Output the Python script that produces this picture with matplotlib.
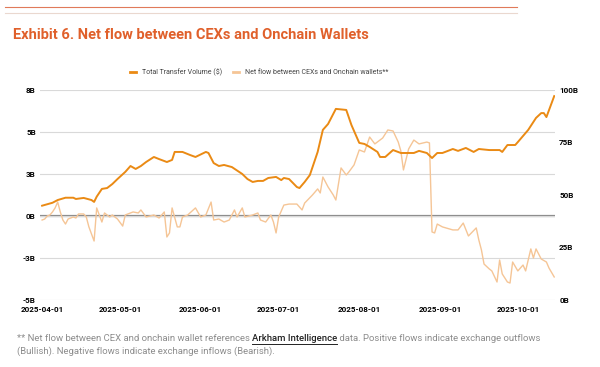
import numpy as np
import matplotlib.pyplot as plt
import matplotlib.dates as mdates
from matplotlib.lines import Line2D
import pandas as pd

plt.rcParams['font.family'] = ['Roboto', 'DejaVu Sans']

start = pd.Timestamp('2025-04-01')

# Total transfer volume ($B, right axis) - day offset from 2025-04-01
vol_days = [0, 4, 6, 9, 12, 13, 16, 19, 20, 21, 23, 25, 27, 29, 32, 34, 36, 38, 40, 43,
            45, 48, 50, 51, 54, 57, 59, 63, 64, 66, 68, 70, 73, 77, 79, 81, 83, 85, 87, 90,
            92, 93, 95, 98, 99, 101, 103, 106, 108, 110, 113, 117, 119, 122, 124, 126, 129, 130, 132, 135,
            138, 143, 145, 148, 150, 152, 154, 158, 160, 163, 166, 168, 172, 176, 177, 179, 182, 183, 187, 190,
            192, 193, 194, 197]
vol_vals = [44.9, 46.3, 47.6, 48.7, 48.7, 48.1, 48.6, 47.6, 46.7, 49.2, 52.9, 53.3, 55.2, 57.6, 61.0, 63.8, 62.4, 63.8, 65.7, 68.1,
            67.1, 65.7, 66.7, 70.5, 70.5, 69.0, 68.1, 70.5, 70.0, 65.2, 63.8, 64.3, 63.3, 60.0, 57.6, 56.2, 56.7, 56.7, 58.1, 58.6,
            57.1, 58.1, 57.6, 53.8, 53.3, 56.2, 59.5, 70.5, 81.0, 83.8, 91.0, 90.5, 83.3, 74.8, 74.3, 72.9, 70.5, 68.1, 68.1, 71.4,
            70.0, 70.0, 71.0, 70.0, 67.6, 70.0, 70.0, 71.9, 71.0, 72.4, 70.5, 71.9, 71.4, 71.4, 70.5, 73.8, 73.8, 75.2, 81.0, 86.7,
            89.0, 89.0, 87.1, 97.1]

# Net flow between CEXs and onchain wallets ($B, left axis)
flow_days = [0, 1, 2, 3, 4, 5, 6, 7, 8, 9, 10, 12, 13, 14, 16, 17, 18, 20, 21, 23,
             24, 26, 27, 29, 31, 32, 35, 37, 38, 40, 43, 45, 47, 48, 49, 50, 52, 53, 54, 56,
             59, 61, 63, 65, 66, 68, 70, 72, 74, 75, 77, 78, 81, 83, 84, 86, 88, 89, 90, 91,
             93, 95, 98, 100, 101, 104, 106, 107, 108, 110, 112, 113, 115, 117, 118, 120, 122, 124, 126, 128,
             131, 133, 135, 137, 138, 139, 141, 143, 145, 148, 149, 150, 151, 152, 154, 158, 160, 162, 164, 167,
             168, 169, 170, 172, 173, 175, 176, 177, 179, 180, 181, 183, 185, 186, 188, 189, 190, 192, 194, 195,
             197]
flow_vals = [-0.24, -0.18, 0.0, 0.06, 0.24, 0.48, 0.83, 0.24, -0.24, -0.48, -0.18, -0.06, -0.12, 0.12, 0.12, -0.06, -0.65, -1.49, 0.48, -0.36,
             0.18, -0.06, 0.06, -0.18, -0.6, 0.06, 0.24, 0.18, 0.36, -0.06, 0.06, -0.12, 0.24, -1.25, -1.01, 0.48, -0.65, -0.65, -0.06, 0.06,
             0.48, -0.06, 0.06, 0.83, -0.24, -0.18, -0.36, -0.24, 0.36, -0.06, 0.48, -0.06, 0.06, 0.18, -0.24, -0.36, 0.06, -0.36, -1.01, -0.06,
             0.65, 0.71, 0.71, 0.36, 0.77, 1.25, 1.61, 1.37, 2.32, 1.73, 1.25, 0.95, 2.86, 2.44, 2.62, 3.04, 3.93, 3.81, 4.70, 4.29,
             4.64, 5.12, 5.06, 4.40, 3.87, 2.74, 3.99, 4.52, 4.29, 4.40, 4.35, -0.95, -1.01, -0.48, -0.65, -0.83, -0.83, -0.42, -1.19, -0.71,
             -1.43, -2.02, -2.86, -3.15, -3.27, -3.93, -2.62, -3.45, -3.93, -3.99, -2.74, -3.27, -2.92, -3.27, -1.96, -2.5, -1.96, -2.56, -2.74, -3.10,
             -3.63]

left_ticks = [-5, -2.5, 0, 2.5, 5, 7.5]
left_labels = ['-5B', '-3B', '0B', '3B', '5B', '8B']
right_ticks = [0, 25, 50, 75, 100]
right_labels = ['0B', '25B', '50B', '75B', '100B']
x_ticks = ['2025-04-01', '2025-05-01', '2025-06-01', '2025-07-01', '2025-08-01', '2025-09-01', '2025-10-01']

vol_dates = start + pd.to_timedelta(vol_days, unit='D')
flow_dates = start + pd.to_timedelta(flow_days, unit='D')

c_vol = '#EA8A14'
c_flow = '#F5C596'
c_title = '#E0602B'

fig = plt.figure(figsize=(6, 3.67), dpi=100)
ax = fig.add_axes([0.0667, 0.1826, 0.8583, 0.5722])
ax2 = ax.twinx()

ax.set_ylim(-5, 7.5)
ax.set_yticks(left_ticks)
ax.set_yticklabels(left_labels)
ax.grid(axis='y', color='#d9d9d9', linewidth=0.8)
ax.axhline(0, color='#8a8a8a', linewidth=1.6, zorder=1)
ax.plot(flow_dates, flow_vals, color=c_flow, linewidth=1.0, zorder=2)

ax2.set_ylim(0, 100)
ax2.set_yticks(right_ticks)
ax2.set_yticklabels(right_labels)
ax2.plot(vol_dates, vol_vals, color=c_vol, linewidth=1.4, zorder=3)

ax.set_xlim(start - pd.Timedelta(days=0.8), start + pd.Timedelta(days=197.3))
ax.set_xticks(pd.to_datetime(x_ticks))
ax.xaxis.set_major_formatter(mdates.DateFormatter('%Y-%m-%d'))

for a in (ax, ax2):
    for s in a.spines.values():
        s.set_visible(False)
    a.tick_params(length=0, labelsize=5.8, pad=3)
    for lab in a.get_xticklabels() + a.get_yticklabels():
        lab.set_fontweight('bold')
ax.tick_params(axis='x', pad=4)

# header rules and title
fig.add_artist(Line2D([0.008, 0.862], [0.981, 0.981], color='#E07A5A', linewidth=0.8))
fig.add_artist(Line2D([0.008, 0.862], [0.965, 0.965], color='#EAD8CF', linewidth=0.8))
fig.text(0.022, 0.905, 'Exhibit 6. Net flow between CEXs and Onchain Wallets',
         color=c_title, fontsize=10.5, fontweight='bold', va='center', ha='left')

handles = [Line2D([], [], color=c_vol, linewidth=2), Line2D([], [], color=c_flow, linewidth=2)]
fig.legend(handles, ['Total Transfer Volume ($)', 'Net flow between CEXs and Onchain wallets**'],
           loc='center', bbox_to_anchor=(0.432, 0.803), ncol=2, frameon=False, fontsize=5.0,
           handlelength=0.9, handletextpad=0.8, columnspacing=1.6, labelcolor='#444444')

# footnote
fs = 6.8
y1, y2 = 0.072, 0.037
t1 = fig.text(0.028, y1, '** Net flow between CEX and onchain wallet references ',
              color='#8c8c8c', fontsize=fs, va='baseline')
t2 = fig.text(0, 0, 'Arkham Intelligence', color='#222222', fontsize=fs,
              fontweight='medium', va='baseline')
t3 = fig.text(0, 0, ' data. Positive flows indicate exchange outflows',
              color='#8c8c8c', fontsize=fs, va='baseline')
fig.text(0.028, y2, '(Bullish). Negative flows indicate exchange inflows (Bearish).',
         color='#8c8c8c', fontsize=fs, va='baseline')
fig.canvas.draw()
r = fig.canvas.get_renderer()
b1 = t1.get_window_extent(r)
t2.set_position((b1.x1 / fig.bbox.width, y1))
fig.canvas.draw()
b2 = t2.get_window_extent(r)
t3.set_position((b2.x1 / fig.bbox.width, y1))
fig.add_artist(Line2D([b2.x0 / fig.bbox.width, b2.x1 / fig.bbox.width], [y1 - 0.008, y1 - 0.008],
                      color='#222222', linewidth=0.7))

fig.savefig('out.png', dpi=100)
